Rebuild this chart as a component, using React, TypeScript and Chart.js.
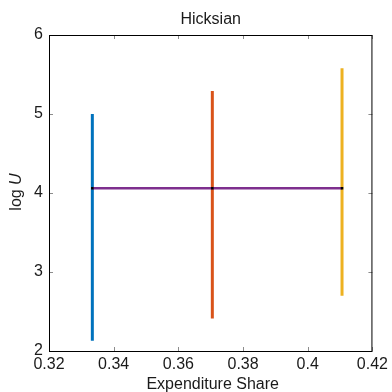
import React, { useEffect, useRef } from "react";
import { Chart, registerables } from "chart.js";

Chart.register(...registerables);

// ---- data ----
const shares = [0.3334, 0.3705, 0.4106];
const lowerLogU = [2.13, 2.41, 2.7];
const upperLogU = [5.0, 5.29, 5.58];
const pointLogU = [4.06, 4.06, 4.06];
const lineColors = ["#0072BD", "#D95319", "#EDB120"];
const xTicks = [0.32, 0.34, 0.36, 0.38, 0.4, 0.42];
const yTicks = [2, 3, 4, 5, 6];
const titleText = "Hicksian";
const xTitleText = "Expenditure Share";
const yTitleMain = "log ";
const yTitleVar = "U";

const FONT = '"Liberation Sans", Arial, Helvetica, sans-serif';

const framePlugin = {
  id: "matlabFrame",
  afterDatasetsDraw(chart: any) {
    const { ctx, chartArea, scales } = chart;
    const { left, right, top, bottom } = chartArea;
    ctx.save();
    ctx.strokeStyle = "#8c8c8c";
    ctx.lineWidth = 1;
    const tl = 4;
    ctx.beginPath();
    xTicks.forEach((v) => {
      const px = Math.round(scales.x.getPixelForValue(v)) + 0.5;
      ctx.moveTo(px, bottom);
      ctx.lineTo(px, bottom - tl);
      ctx.moveTo(px, top);
      ctx.lineTo(px, top + tl);
    });
    yTicks.forEach((v) => {
      const py = Math.round(scales.y.getPixelForValue(v)) + 0.5;
      ctx.moveTo(left, py);
      ctx.lineTo(left + tl, py);
      ctx.moveTo(right, py);
      ctx.lineTo(right - tl, py);
    });
    ctx.stroke();
    ctx.strokeStyle = "#000";
    ctx.lineWidth = 1;
    ctx.strokeRect(left + 0.5, top + 0.5, right - left - 1, bottom - top);
    ctx.restore();
  },
  afterDraw(chart: any) {
    const { ctx, chartArea } = chart;
    const { left, right, top, bottom } = chartArea;
    const cx = (left + right) / 2;
    ctx.save();
    ctx.fillStyle = "#1a1a1a";
    ctx.font = `16px ${FONT}`;
    ctx.textAlign = "center";
    ctx.textBaseline = "alphabetic";
    ctx.fillText(titleText, cx, 24);
    ctx.fillText(xTitleText, cx + 2, 389);
    ctx.translate(21, (top + bottom) / 2 - 1);
    ctx.rotate(-Math.PI / 2);
    ctx.font = `16px ${FONT}`;
    const w1 = ctx.measureText(yTitleMain).width;
    ctx.font = `italic 16px ${FONT}`;
    const w2 = ctx.measureText(yTitleVar).width;
    const start = -(w1 + w2) / 2;
    ctx.textAlign = "left";
    ctx.font = `16px ${FONT}`;
    ctx.fillText(yTitleMain, start, 0);
    ctx.font = `italic 16px ${FONT}`;
    ctx.fillText(yTitleVar, start + w1, 0);
    ctx.restore();
  },
};

export default function App() {
  const ref = useRef<HTMLCanvasElement>(null);
  useEffect(() => {
    if (!ref.current) return;
    const dots = {
      label: "points",
      data: shares.map((s, i) => ({ x: s, y: pointLogU[i] })),
      showLine: false,
      pointRadius: 1.8,
      pointBackgroundColor: "#000",
      pointBorderWidth: 0,
      pointStyle: "rect",
    };
    const horiz = {
      label: "level",
      data: shares.map((s, i) => ({ x: s, y: pointLogU[i] })),
      showLine: true,
      borderColor: "#7E2F8E",
      borderWidth: 2.5,
      pointRadius: 0,
    };
    const verticals = shares.map((s, i) => ({
      label: `range${i}`,
      data: [
        { x: s, y: lowerLogU[i] },
        { x: s, y: upperLogU[i] },
      ],
      showLine: true,
      borderColor: lineColors[i],
      borderWidth: 3,
      pointRadius: 0,
    }));
    const chart = new Chart(ref.current, {
      type: "scatter",
      data: { datasets: [dots, horiz, ...verticals] as any },
      plugins: [framePlugin],
      options: {
        animation: false,
        responsive: false,
        devicePixelRatio: 1,
        layout: { padding: { top: 35, right: 18, left: 0, bottom: 0 } },
        plugins: {
          legend: { display: false },
          tooltip: { enabled: false },
          title: { display: false },
        },
        scales: {
          x: {
            type: "linear",
            min: 0.32,
            max: 0.42,
            grid: { display: false, drawTicks: false },
            border: { display: false },
            afterBuildTicks: (scale: any) => {
              scale.ticks = xTicks.map((v) => ({ value: v }));
            },
            afterFit: (scale: any) => {
              scale.height = 41;
            },
            ticks: {
              padding: 4,
              color: "#1a1a1a",
              font: { family: FONT, size: 16 },
              maxRotation: 0,
              autoSkip: false,
              callback: (v: any) => String(Number(Number(v).toFixed(2))),
            },
          },
          y: {
            type: "linear",
            min: 2,
            max: 6,
            grid: { display: false, drawTicks: false },
            border: { display: false },
            afterBuildTicks: (scale: any) => {
              scale.ticks = yTicks.map((v) => ({ value: v }));
            },
            afterFit: (scale: any) => {
              scale.width = 49;
            },
            ticks: {
              padding: 6,
              color: "#1a1a1a",
              font: { family: FONT, size: 16 },
              autoSkip: false,
              callback: (v: any) => String(v),
            },
          },
        },
      },
    });
    return () => chart.destroy();
  }, []);
  return (
    <div style={{ position: "absolute", left: 0, top: 0, width: 392, height: 392, background: "#fff" }}>
      <canvas ref={ref} width={392} height={392} style={{ width: 392, height: 392 }} />
    </div>
  );
}
